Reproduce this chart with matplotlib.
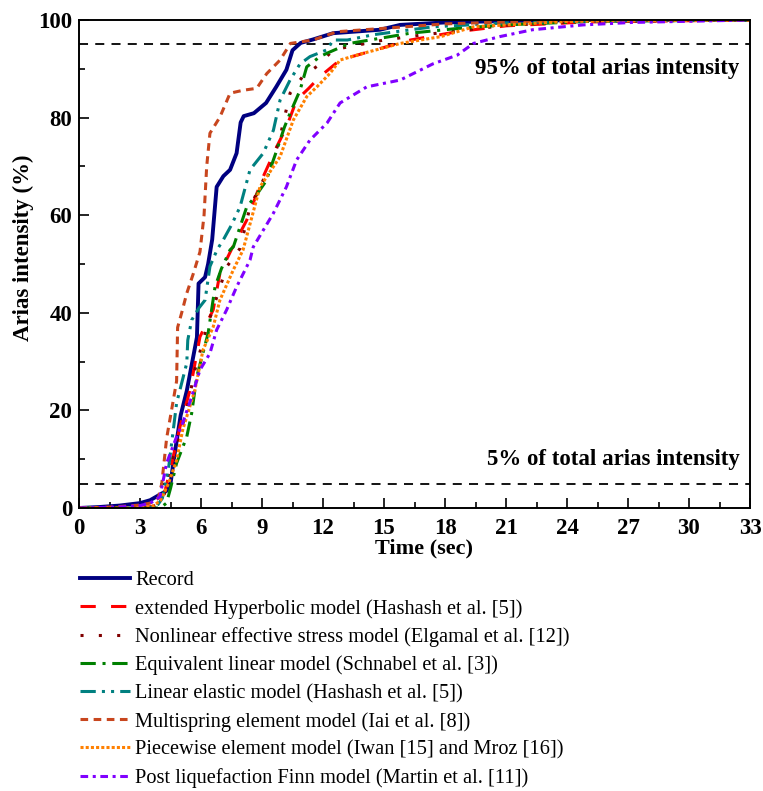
import matplotlib
matplotlib.use("Agg")
import matplotlib.pyplot as plt
from matplotlib.ticker import MultipleLocator

plt.rcParams['font.family'] = ['Liberation Serif', 'DejaVu Serif']

# ---------------- data ----------------
record_t = [0, 1, 2, 3, 3.5, 4.0, 4.3, 4.5, 4.7, 5.0, 5.3, 5.8, 5.88, 6.2, 6.35, 6.55, 6.77, 7.1, 7.43, 7.75, 7.95, 8.1, 8.6, 9.2, 9.7, 10.2, 10.5, 10.9, 11.5, 12.5, 14.8, 15.8, 18, 21, 25, 33]
record_v = [0, 0.2, 0.5, 1.0, 1.6, 2.8, 3.5, 5, 11, 19, 24, 35, 46, 47.3, 50, 55, 65.8, 68, 69.3, 72.7, 79, 80.3, 80.9, 83, 86.3, 89.8, 93.8, 95.3, 96, 97.3, 98, 99, 99.5, 99.8, 100, 100]

hyper_t = [0, 3, 3.9, 4.2, 4.5, 4.97, 5.46, 5.95, 6.6, 6.93, 7.5, 8.25, 9.06, 9.72, 10.2, 10.7, 11.3, 11.85, 12.84, 14.6, 16.3, 18.6, 21, 25, 33]
hyper_v = [0, 0, 0.5, 3, 8, 16.7, 24.2, 35.1, 40.6, 48.1, 53, 59, 67.9, 74, 78, 83.6, 86, 88.4, 91.8, 93.9, 95.9, 97.6, 98.8, 99.6, 100]

nles_t = [0, 3, 3.9, 4.2, 4.6, 5.3, 5.7, 6.28, 7.26, 7.92, 8.41, 9.06, 9.56, 9.89, 10.38, 11.0, 11.8, 12.5, 15, 17, 21, 25, 33]
nles_v = [0, 0, 0.5, 3, 10, 20, 28.3, 36.9, 49.4, 53.2, 61.7, 67.2, 71.3, 76.1, 85, 88.4, 90.8, 93.9, 95.9, 97, 98.9, 99.7, 100]

eql_t = [0, 3, 4.0, 4.3, 4.5, 4.8, 5.3, 5.54, 5.79, 6.35, 6.69, 7.0, 7.43, 7.59, 8.25, 8.7, 9.2, 9.7, 10.1, 10.38, 10.87, 11.2, 11.85, 12.2, 13.3, 16.3, 18.7, 21, 25, 33]
eql_v = [0, 0, 0, 1, 4, 9.2, 14.6, 19.4, 26.9, 35.8, 45.3, 49, 52.9, 53.5, 61.7, 64, 67, 73, 78, 80.9, 85.6, 90.4, 92.5, 93.2, 95.2, 97.3, 98.3, 99, 99.7, 100]

lin_t = [0, 3, 3.8, 4.1, 4.4, 4.8, 5.3, 5.35, 5.54, 5.9, 6.2, 6.44, 6.8, 7.09, 7.5, 7.92, 8.41, 9.06, 9.56, 9.89, 10.38, 10.87, 11.36, 12.2, 12.5, 13.2, 14.5, 17.4, 21, 25, 33]
lin_v = [0, 0, 0.2, 2, 8, 21.5, 29.7, 34.4, 38.5, 41, 42.6, 49.5, 53, 54.9, 58, 61.7, 69.3, 72.7, 77.4, 83.6, 87.7, 91, 92.5, 93.9, 95.9, 95.9, 97, 98.6, 99.4, 99.8, 100]

multi_t = [0, 1, 2, 3, 3.5, 3.9, 4.07, 4.31, 4.55, 4.8, 4.85, 5.05, 5.3, 5.62, 5.95, 6.15, 6.28, 6.44, 6.93, 7.43, 8.07, 8.74, 9.23, 9.89, 10.4, 11.5, 12.7, 15, 18, 21, 25, 33]
multi_v = [0, 0.1, 0.3, 0.6, 1.0, 2.0, 5, 14.3, 20, 26, 37, 40, 44, 48, 52.5, 60, 70, 76.8, 80.1, 85, 85.6, 86, 89, 91.8, 95.2, 95.9, 97.6, 98.3, 99.2, 99.6, 100, 100]

piece_t = [0, 3, 3.6, 4.0, 4.4, 4.8, 5.1, 5.7, 6.1, 6.6, 6.93, 7.59, 8.07, 8.9, 9.89, 10.54, 11.2, 11.7, 12.35, 12.84, 14.0, 15.8, 17.8, 19.4, 24, 28, 33]
piece_v = [0, 0, 0.3, 1.5, 5, 9.8, 16, 24.2, 32.4, 37.1, 42.6, 48.8, 52.9, 65.8, 72, 79.5, 84.3, 86.3, 89.1, 91.8, 93.2, 95.2, 96.6, 98.6, 99.7, 99.9, 100]

finn_t = [0, 2, 3, 3.5, 3.98, 4.31, 4.8, 5.1, 5.54, 5.95, 6.44, 6.77, 7.26, 7.75, 8.41, 8.57, 9.56, 10.2, 10.7, 11.36, 12.2, 12.84, 14.15, 15.8, 17.4, 18.6, 19.4, 20.7, 22.3, 24.8, 27.2, 33]
finn_v = [0, 0.2, 0.5, 1, 2.3, 9.2, 14.6, 17.4, 22.8, 28.3, 31.7, 36.5, 40.6, 45.3, 50.8, 53.5, 60.4, 65.8, 71.3, 75.4, 78.9, 83, 86.3, 87.7, 91, 92.8, 95.2, 96.6, 98, 99, 99.5, 100]

labels = [
    "Record",
    "extended Hyperbolic model (Hashash et al. [5])",
    "Nonlinear effective stress model (Elgamal et al. [12])",
    "Equivalent linear model (Schnabel et al. [3])",
    "Linear elastic model (Hashash et al. [5])",
    "Multispring element model (Iai et al. [8])",
    "Piecewise element model (Iwan [15] and Mroz [16])",
    "Post liquefaction Finn model (Martin et al. [11])",
]
thresholds = [95, 5]
threshold_texts = ["95% of total arias intensity", "5% of total arias intensity"]
x_ticks = list(range(0, 34, 3))
y_ticks = list(range(0, 101, 20))

# ---------------- figure ----------------
fig = plt.figure(figsize=(7.63, 7.91), dpi=100)
ax = fig.add_axes([79/763, 1-508/791, 671/763, 488/791])

series = [
    (record_t, record_v, dict(color="#000080", lw=2.8, ls="-")),
    (hyper_t, hyper_v, dict(color="#FF0000", lw=2.2, ls=(0, (5, 5)))),
    (nles_t, nles_v, dict(color="#800000", lw=2.2, ls=(0, (1, 5)))),
    (eql_t, eql_v, dict(color="#008000", lw=2.2, ls=(0, (5, 2.2, 1, 2.2)))),
    (lin_t, lin_v, dict(color="#008080", lw=2.2, ls=(0, (5, 2, 1, 2, 1, 2)))),
    (multi_t, multi_v, dict(color="#C8461E", lw=2.2, ls=(0, (2.5, 1.8)))),
    (piece_t, piece_v, dict(color="#FF8000", lw=2.2, ls=(0, (1, 0.7)))),
    (finn_t, finn_v, dict(color="#8000FF", lw=2.2, ls=(0, (2.5, 1.5, 1, 1.5)))),
]
handles = []
for (t, v, st), lab in zip(series, labels):
    h, = ax.plot(t, v, label=lab, **st)
    handles.append(h)

for th in thresholds:
    ax.axhline(th, color="black", lw=1.3, ls=(0, (5, 4)), zorder=1)

ax.text(32.5, 90.0, threshold_texts[0], ha="right", va="center",
        fontsize=16.5, fontweight="bold")
ax.text(32.5, 10.0, threshold_texts[1], ha="right", va="center",
        fontsize=16.5, fontweight="bold")

ax.set_xlim(0, 33)
ax.set_ylim(0, 100)
ax.set_xticks(x_ticks)
ax.set_yticks(y_ticks)
ax.xaxis.set_minor_locator(MultipleLocator(1.5))
ax.yaxis.set_minor_locator(MultipleLocator(10))
ax.tick_params(which="both", direction="in", top=False, right=False, width=1.2)
ax.tick_params(which="major", length=7.5, labelsize=16.5)
ax.tick_params(axis="x", which="major", pad=7)
ax.tick_params(axis="y", which="major", pad=5)
ax.tick_params(which="minor", length=4.5)
for lab in ax.get_xticklabels() + ax.get_yticklabels():
    lab.set_fontweight("bold")
for s in ax.spines.values():
    s.set_linewidth(1.4)

ax.set_xlabel("Time (sec)", fontsize=16, fontweight="bold")
ax.xaxis.set_label_coords((424-79)/671, -(548-508)/488)
ax.xaxis.label.set_verticalalignment("center")
ax.set_ylabel("Arias intensity (%)", fontsize=16.5, fontweight="bold")
ax.yaxis.set_label_coords((23-79)/671, (508-248)/488)
ax.yaxis.label.set_verticalalignment("center")

fig.legend(handles=handles, labels=labels, loc="upper left",
           bbox_to_anchor=(80/763, 1-571/791), frameon=False,
           fontsize=14.7, handlelength=2.45, handletextpad=0.25,
           labelspacing=0.42, borderaxespad=0, borderpad=0)

fig.savefig("out.png", dpi=100)
